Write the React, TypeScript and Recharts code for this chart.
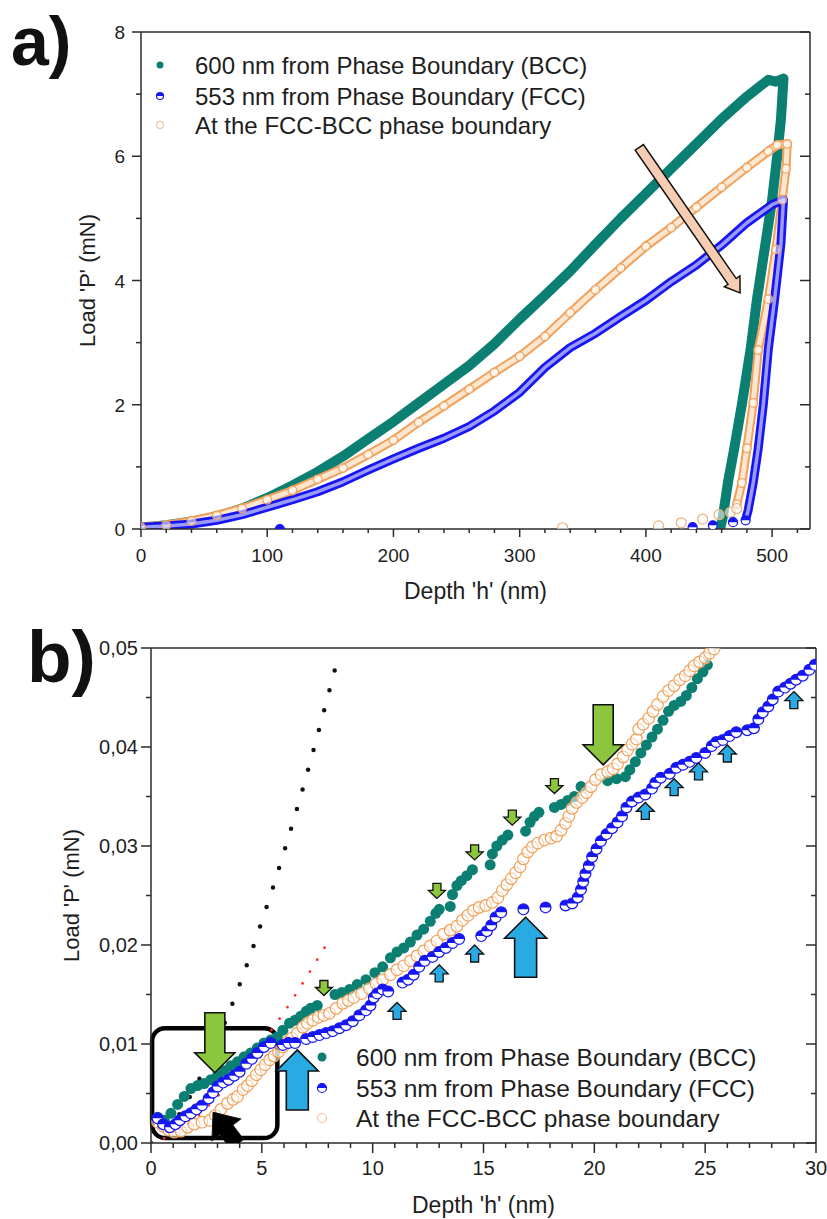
import React from 'react';
import { ComposedChart, XAxis, YAxis, Line, Scatter, ReferenceArea } from 'recharts';

const TEAL = '#0b7f72';
const BLUE = '#1616f2';
const ORANGE = '#f0a05a';
const ORANGE_LIGHT = '#f3c29c';
const GREEN = '#8cc63e';
const SKY = '#2aaae2';
const PEACH = '#f6cdb2';
const AXIS = '#2b2b2b';
const FONT = '"Liberation Sans", Arial, Helvetica, sans-serif';

// ---------- panel a : [depth nm, load mN] ----------
const bccA = [
  [0, 0.03], [10, 0.04], [20, 0.06], [40, 0.12], [60, 0.2], [80, 0.33], [100, 0.5], [120, 0.7],
  [140, 0.92], [160, 1.17], [180, 1.45], [200, 1.73], [220, 2.03], [240, 2.33], [260, 2.63],
  [280, 2.98], [300, 3.38], [320, 3.76], [340, 4.15], [360, 4.58], [380, 5.0], [400, 5.4],
  [420, 5.8], [440, 6.2], [460, 6.6], [480, 6.96], [490, 7.12], [497, 7.23], [503, 7.2], [509, 7.25],
  [507, 6.6], [504, 6.0], [500, 5.3], [494, 4.5], [488, 3.7], [483, 2.9], [476, 2.0], [470, 1.3],
  [465, 0.75], [461, 0.2], [459, 0.02],
];
const fccA = [
  [0, 0.03], [20, 0.05], [40, 0.08], [60, 0.14], [80, 0.23], [100, 0.35], [120, 0.47], [140, 0.6],
  [160, 0.76], [180, 0.95], [200, 1.13], [220, 1.3], [240, 1.46], [260, 1.65], [280, 1.9], [300, 2.2],
  [320, 2.6], [340, 2.92], [360, 3.15], [380, 3.42], [400, 3.68], [420, 3.98], [440, 4.25],
  [460, 4.57], [480, 4.93], [500, 5.22], [509, 5.3], [507, 4.6], [502, 3.7], [497, 2.9], [493, 2.0],
  [489, 1.3], [485, 0.74], [481, 0.3], [479, 0.15],
];
const fccTailA = [[110, 0.0], [437, 0.03], [453, 0.06], [469, 0.11], [479, 0.14]];
const pbA = [
  [0, 0.03], [20, 0.06], [40, 0.13], [60, 0.22], [80, 0.33], [100, 0.47], [120, 0.62], [140, 0.8],
  [160, 0.98], [180, 1.2], [200, 1.43], [220, 1.72], [240, 1.98], [260, 2.25], [280, 2.52],
  [300, 2.78], [320, 3.1], [340, 3.48], [360, 3.85], [380, 4.2], [400, 4.55], [420, 4.85],
  [440, 5.18], [460, 5.5], [480, 5.82], [497, 6.08], [504, 6.18], [512, 6.2], [511, 5.8], [508, 5.3],
  [503, 4.5], [497, 3.7], [489, 2.88], [485, 2.03], [480, 1.3], [476, 0.74], [472, 0.4],
];
const pbTailA = [[334, 0.02], [410, 0.05], [428, 0.1], [445, 0.16], [458, 0.23], [467, 0.27], [472, 0.33]];
const pinkArrowA = [[474.6, 3.8]];

// ---------- panel b ----------
const bccB = [
  [0.3, 0.0026], [0.6, 0.0023], [0.9, 0.003], [1.2, 0.0039], [1.5, 0.0047], [1.8, 0.0055], [2.1, 0.0058],
  [2.4, 0.006], [2.7, 0.0064], [3.0, 0.0068], [3.3, 0.0073], [3.6, 0.0078], [3.9, 0.0082], [4.2, 0.0087],
  [4.5, 0.0091], [4.8, 0.0096], [5.1, 0.0101], [5.4, 0.0104], [5.7, 0.0107], [5.95, 0.0114],
  [6.25, 0.0121], [6.5, 0.0124], [6.75, 0.0128], [7.0, 0.0133], [7.2, 0.0136], [7.5, 0.0139],
  [8.3, 0.015], [8.6, 0.0152], [8.95, 0.0155], [9.3, 0.016], [9.7, 0.0165], [10.1, 0.0172],
  [10.45, 0.0178], [10.8, 0.0187], [11.1, 0.0193], [11.4, 0.0197], [11.7, 0.0203], [12.0, 0.021],
  [12.3, 0.0216], [12.6, 0.0224], [12.85, 0.0232], [13.0, 0.0236], [13.5, 0.0239], [13.6, 0.0251],
  [13.8, 0.026], [14.0, 0.0265], [14.25, 0.027], [14.5, 0.0276], [15.3, 0.0281], [15.4, 0.0292],
  [15.6, 0.03], [15.85, 0.0306], [16.1, 0.0311], [16.9, 0.0315], [17.1, 0.0324], [17.3, 0.033],
  [17.5, 0.0334], [18.2, 0.0339], [18.5, 0.0342], [18.8, 0.0346], [19.1, 0.035], [19.4, 0.036],
  [20.6, 0.0366], [21.0, 0.0368], [21.4, 0.037], [21.6, 0.0377], [21.85, 0.0385], [22.1, 0.0394],
  [22.35, 0.0402], [22.6, 0.041], [22.85, 0.0418], [23.1, 0.0427], [23.35, 0.0436], [23.6, 0.0442],
  [23.9, 0.0446], [24.15, 0.0452], [24.4, 0.046], [24.65, 0.0469], [24.9, 0.0476], [25.1, 0.0483],
];
const fccB = [
  [0.3, 0.0025], [0.55, 0.0019], [0.85, 0.0016], [1.1, 0.0019], [1.3, 0.0023], [1.55, 0.0027],
  [1.8, 0.003], [2.05, 0.0034], [2.3, 0.0038], [2.6, 0.0045], [2.8, 0.0051], [3.0, 0.0057],
  [3.25, 0.0061], [3.5, 0.0064], [3.75, 0.0068], [4.0, 0.0072], [4.3, 0.008], [4.55, 0.0085],
  [4.8, 0.0091], [5.1, 0.0097], [5.4, 0.0101], [5.95, 0.0099], [6.2, 0.0101], [6.5, 0.0101],
  [7.0, 0.0105], [7.3, 0.0107], [7.6, 0.0109], [7.9, 0.0111], [8.2, 0.0113], [8.5, 0.0116],
  [8.8, 0.0119], [9.1, 0.0123], [9.4, 0.0129], [9.7, 0.0134], [9.9, 0.0139], [10.05, 0.0147],
  [10.2, 0.0151], [10.45, 0.0155], [10.7, 0.0153], [11.35, 0.0162], [11.6, 0.0165], [11.85, 0.017],
  [12.1, 0.0178], [12.35, 0.0184], [12.7, 0.0188], [13.0, 0.0193], [13.3, 0.0197], [13.6, 0.0202],
  [13.9, 0.0206], [14.9, 0.0209], [15.15, 0.0214], [15.35, 0.022], [15.55, 0.0228], [15.8, 0.0233],
  [16.8, 0.0236], [17.8, 0.0238], [18.7, 0.024], [19.0, 0.0242], [19.25, 0.0248], [19.4, 0.0256],
  [19.5, 0.0264], [19.6, 0.0272], [19.75, 0.028], [19.9, 0.0289], [20.1, 0.0297], [20.3, 0.0305],
  [20.55, 0.0312], [20.8, 0.0318], [21.05, 0.0324], [21.25, 0.033], [21.45, 0.0339], [21.7, 0.0345],
  [22.0, 0.0349], [22.3, 0.0352], [22.6, 0.0358], [22.75, 0.0364], [23.0, 0.0369], [23.4, 0.0373],
  [23.7, 0.0379], [24.0, 0.0382], [24.3, 0.0385], [24.6, 0.0389], [25.0, 0.0394], [25.3, 0.0401],
  [25.5, 0.0405], [25.8, 0.0407], [26.1, 0.0411], [26.4, 0.0415], [26.9, 0.0417], [27.2, 0.0419],
  [27.4, 0.0428], [27.6, 0.0435], [27.85, 0.0441], [28.05, 0.0448], [28.3, 0.0456], [28.6, 0.046],
  [28.85, 0.0464], [29.1, 0.0468], [29.4, 0.0472], [29.7, 0.0478], [29.95, 0.0483],
];
const pbB = [
  [0.3, 0.0021], [0.55, 0.0017], [0.8, 0.0013], [1.05, 0.0011], [1.35, 0.0012], [1.65, 0.0016],
  [1.95, 0.0019], [2.3, 0.0021], [2.65, 0.0023], [2.9, 0.0028], [3.15, 0.0034], [3.45, 0.004],
  [3.7, 0.0044], [3.9, 0.0047], [4.15, 0.0054], [4.35, 0.0058], [4.55, 0.0063], [4.75, 0.0069],
  [4.95, 0.0074], [5.15, 0.0079], [5.35, 0.0084], [5.55, 0.0088], [5.75, 0.0092], [5.95, 0.0097],
  [6.15, 0.0102], [6.35, 0.0106], [6.6, 0.0111], [6.85, 0.0117], [7.05, 0.0121], [7.3, 0.0124],
  [7.55, 0.0127], [7.8, 0.0129], [8.05, 0.0131], [8.35, 0.0136], [8.65, 0.0141], [8.9, 0.0144],
  [9.15, 0.0147], [9.5, 0.0151], [9.85, 0.0156], [10.15, 0.0161], [10.45, 0.0165], [10.8, 0.017],
  [11.1, 0.0175], [11.4, 0.0179], [11.7, 0.0184], [12.0, 0.0189], [12.3, 0.0194], [12.6, 0.0199],
  [12.9, 0.0204], [13.2, 0.0211], [13.5, 0.0215], [13.8, 0.0219], [14.05, 0.0225], [14.3, 0.023],
  [14.55, 0.0235], [14.8, 0.0238], [15.1, 0.024], [15.4, 0.0243], [15.65, 0.0248], [15.85, 0.0255],
  [16.05, 0.0261], [16.25, 0.0267], [16.45, 0.0273], [16.65, 0.0279], [16.8, 0.0287], [17.0, 0.0294],
  [17.2, 0.0299], [17.45, 0.0303], [17.75, 0.0306], [18.05, 0.0308], [18.3, 0.031], [18.5, 0.0316],
  [18.7, 0.0323], [18.85, 0.033], [19.0, 0.0338], [19.2, 0.0344], [19.45, 0.0349], [19.65, 0.0354],
  [19.85, 0.036], [20.05, 0.0367], [20.3, 0.0372], [20.6, 0.0375], [20.85, 0.0378], [21.05, 0.0383],
  [21.3, 0.039], [21.5, 0.0397], [21.7, 0.0403], [21.9, 0.0408], [22.0, 0.0418], [22.2, 0.0423],
  [22.45, 0.0429], [22.65, 0.0436], [22.85, 0.0443], [23.1, 0.0451], [23.35, 0.0457], [23.6, 0.0462],
  [23.85, 0.0468], [24.1, 0.0472], [24.3, 0.0477], [24.5, 0.0482], [24.75, 0.0486], [25.0, 0.049],
  [25.2, 0.0495], [25.4, 0.0499],
];
// elastic (Hertz-type) guide lines
const fitBlack = [
  [0, 0], [0.5, 0.0007], [1, 0.002], [1.5, 0.0037], [2, 0.0057], [2.5, 0.0079], [3, 0.0104],
  [3.5, 0.0131], [4, 0.016], [4.5, 0.0191], [5, 0.0224], [5.5, 0.0258], [6, 0.0294], [6.5, 0.0331],
  [7, 0.037], [7.5, 0.0411], [8, 0.0453], [8.4, 0.0487],
];
const fitRed = [
  [0, 0], [1, 0.0009], [2, 0.0025], [3, 0.0047], [4, 0.0072], [5, 0.0101], [6, 0.0132], [7, 0.0167], [7.95, 0.0202],
];
// arrow tips
const bigGreenB = [[2.88, 0.0071], [20.4, 0.0382]];
const smallGreenB = [[7.8, 0.0149], [12.9, 0.0247], [14.6, 0.0286], [16.3, 0.0321], [18.2, 0.0353]];
const bigBlueB = [[6.6, 0.0094], [16.9, 0.0228]];
const smallBlueB = [
  [11.1, 0.0142], [13.0, 0.018], [14.6, 0.02], [22.3, 0.0344], [23.6, 0.0368], [24.7, 0.0384], [26.0, 0.0402], [29.0, 0.0456],
];
const blackArrowB = [[2.8, 0.0031]];

// ticks
const xMajorA = [0, 100, 200, 300, 400, 500];
const xMinorA = [20, 40, 60, 80, 120, 140, 160, 180, 220, 240, 260, 280, 320, 340, 360, 380, 420, 440, 460, 480, 520];
const yMajorA = [0, 2, 4, 6, 8];
const yMinorA = [1, 3, 5, 7];
const xMajorB = [0, 5, 10, 15, 20, 25, 30];
const xMinorB = [1, 2, 3, 4, 6, 7, 8, 9, 11, 12, 13, 14, 16, 17, 18, 19, 21, 22, 23, 24, 26, 27, 28, 29];
const yMajorB = [0, 0.01, 0.02, 0.03, 0.04, 0.05];
const yMinorB = [0.005, 0.015, 0.025, 0.035, 0.045];

const legendLabels = ['600 nm from Phase Boundary (BCC)', '553 nm from Phase Boundary (FCC)', 'At the FCC-BCC phase boundary'];

const toPts = (rows: number[][]) => rows.map(([h, p]) => ({ h, p }));
const merge = (a: number[], b: number[]) => [...a, ...b].sort((m, n) => m - n);

type Side = 'bottom' | 'top' | 'left' | 'right';

const makeTick = (side: Side, majors: number[], major: number, minor: number, fmt?: (v: number) => string, gap = 0, fontSize = 20) =>
  (props: any) => {
    const { x, y, payload } = props;
    const v = payload.value;
    const isMajor = majors.includes(v);
    const len = isMajor ? major : minor;
    let line: React.ReactNode = null;
    let label: React.ReactNode = null;
    if (side === 'bottom') {
      line = <line x1={x} y1={y} x2={x} y2={y + len} />;
      if (isMajor && fmt) label = <text x={x} y={y + gap} textAnchor="middle">{fmt(v)}</text>;
    } else if (side === 'top') {
      line = <line x1={x} y1={y} x2={x} y2={y + len} />;
    } else if (side === 'left') {
      line = <line x1={x} y1={y} x2={x - len} y2={y} />;
      if (isMajor && fmt) label = <text x={x - gap} y={y + 7} textAnchor="end">{fmt(v)}</text>;
    } else {
      line = <line x1={x} y1={y} x2={x - len} y2={y} />;
    }
    return (
      <g>
        <g stroke={AXIS} strokeWidth={1.5}>{line}</g>
        {label && <g fill="#1e1e1e" fontSize={fontSize} fontFamily={FONT}>{label}</g>}
      </g>
    );
  };

const xTitle = ({ viewBox }: any) => (
  <text x={viewBox.x + viewBox.width / 2} y={viewBox.y + 70} textAnchor="middle" fontSize={23} fontFamily={FONT} fill="#1e1e1e">
    Depth 'h' (nm)
  </text>
);
const yTitle = (dist: number) => ({ viewBox }: any) => {
  const x = viewBox.x + viewBox.width - dist;
  const y = viewBox.y + viewBox.height / 2;
  return (
    <text x={x} y={y} transform={`rotate(-90, ${x}, ${y})`} textAnchor="middle" fontSize={22} fontFamily={FONT} fill="#1e1e1e">
      Load 'P' (mN)
    </text>
  );
};

const arrowShape = (angle: number, len: number, body: number, head: number, headLen: number, fill: string, sw = 1.6) =>
  (props: any) => {
    const { cx, cy } = props;
    const b = body / 2;
    const hw = head / 2;
    const pts = [[0, 0], [-headLen, hw], [-headLen, b], [-len, b], [-len, -b], [-headLen, -b], [-headLen, -hw]]
      .map((q) => q.join(','))
      .join(' ');
    return (
      <polygon points={pts} transform={`translate(${cx},${cy}) rotate(${angle})`} fill={fill} stroke="#111" strokeWidth={sw} strokeLinejoin="miter" />
    );
  };

const tealDot = (r: number) => (props: any) => <circle cx={props.cx} cy={props.cy} r={r} fill={TEAL} />;
const halfDot = (r: number) => (props: any) => {
  const { cx, cy } = props;
  return (
    <g>
      <circle cx={cx} cy={cy} r={r} fill="#fff" stroke={BLUE} strokeWidth={1.2} />
      <path d={`M${cx - r},${cy}A${r},${r} 0 0 1 ${cx + r},${cy}Z`} fill={BLUE} />
    </g>
  );
};
const ring = (r: number, color = ORANGE) => (props: any) => (
  <circle cx={props.cx} cy={props.cy} r={r} fill="rgba(255,255,255,0.55)" stroke={color} strokeWidth={1.2} />
);

const axisLine = { stroke: AXIS, strokeWidth: 1.5 };
const fmtInt = (v: number) => String(v);
const fmtComma = (v: number) => v.toFixed(2).replace('.', ',');

function PanelA() {
  const xt = merge(xMajorA, xMinorA);
  const yt = merge(yMajorA, yMinorA);
  return (
    <ComposedChart width={827} height={610} margin={{ top: 22, right: 7, bottom: 51, left: 81 }}>
      <XAxis type="number" dataKey="h" domain={[0, 530]} ticks={xt} interval={0} allowDataOverflow tickSize={0} tickMargin={0}
        tickLine={false} tick={makeTick('bottom', xMajorA, 8, 4, fmtInt, 33, 19)} height={30} axisLine={axisLine} label={xTitle} />
      <XAxis xAxisId="top" orientation="top" type="number" domain={[0, 530]} ticks={xt} interval={0} allowDataOverflow tickSize={0}
        tickMargin={0} tickLine={false} tick={makeTick('top', xMajorA, 9, 4)} height={10} axisLine={axisLine} />
      <YAxis type="number" dataKey="p" domain={[0, 8]} ticks={yt} interval={0} allowDataOverflow tickSize={0} tickMargin={0}
        tickLine={false} tick={makeTick('left', yMajorA, 9, 5, fmtInt, 16, 19)} width={60} axisLine={axisLine} label={yTitle(46)} />
      <YAxis yAxisId="right" orientation="right" type="number" domain={[0, 8]} ticks={yt} interval={0} allowDataOverflow tickSize={0}
        tickMargin={0} tickLine={false} tick={makeTick('right', yMajorA, 10, 5)} width={10} axisLine={axisLine} />

      <Line data={toPts(bccA)} dataKey="p" type="linear" stroke={TEAL} strokeWidth={10} strokeLinecap="round" strokeLinejoin="round" dot={false} isAnimationActive={false} />

      <Line data={toPts(pbA)} dataKey="p" type="linear" stroke={ORANGE} strokeWidth={9} strokeLinecap="round" strokeLinejoin="round" dot={false} isAnimationActive={false} />
      <Line data={toPts(pbA)} dataKey="p" type="linear" stroke="#fde6cf" strokeWidth={5} strokeLinecap="round" strokeLinejoin="round" dot={false} isAnimationActive={false} />
      <Scatter data={toPts(pbA)} dataKey="p" shape={ring(4.3)} isAnimationActive={false} />
      <Scatter data={toPts(pbTailA)} dataKey="p" shape={ring(5, '#e9b27c')} isAnimationActive={false} />

      <Line data={toPts(fccA)} dataKey="p" type="linear" stroke={BLUE} strokeWidth={9} strokeLinecap="round" strokeLinejoin="round" dot={false} isAnimationActive={false} />
      <Line data={toPts(fccA)} dataKey="p" type="linear" stroke="#9a9aff" strokeWidth={3.5} strokeLinecap="round" strokeLinejoin="round" dot={false} isAnimationActive={false} />
      <Scatter data={toPts(fccTailA)} dataKey="p" shape={halfDot(4.5)} isAnimationActive={false} />

      <Scatter data={toPts(pinkArrowA)} dataKey="p" shape={arrowShape(55.3, 177, 10, 19, 14, PEACH, 1.5)} isAnimationActive={false} />
    </ComposedChart>
  );
}

function PanelB() {
  const xt = merge(xMajorB, xMinorB);
  const yt = merge(yMajorB, yMinorB);
  return (
    <ComposedChart width={827} height={609} margin={{ top: 28, right: 1, bottom: 46, left: 91 }}>
      <XAxis type="number" dataKey="h" domain={[0, 30]} ticks={xt} interval={0} allowDataOverflow tickSize={0} tickMargin={0}
        tickLine={false} tick={makeTick('bottom', xMajorB, 10, 5, fmtInt, 32, 20)} height={30} axisLine={axisLine} label={xTitle} />
      <XAxis xAxisId="top" orientation="top" type="number" domain={[0, 30]} ticks={xt} interval={0} allowDataOverflow tickSize={0}
        tickMargin={0} tickLine={false} tick={makeTick('top', xMajorB, 10, 5)} height={10} axisLine={axisLine} />
      <YAxis type="number" dataKey="p" domain={[0, 0.05]} ticks={yt} interval={0} allowDataOverflow tickSize={0} tickMargin={0}
        tickLine={false} tick={makeTick('left', yMajorB, 10, 5, fmtComma, 13, 20)} width={60} axisLine={axisLine} label={yTitle(72)} />
      <YAxis yAxisId="right" orientation="right" type="number" domain={[0, 0.05]} ticks={yt} interval={0} allowDataOverflow tickSize={0}
        tickMargin={0} tickLine={false} tick={makeTick('right', yMajorB, 10, 5)} width={10} axisLine={axisLine} />

      <Scatter data={toPts(bccB)} dataKey="p" shape={tealDot(5.5)} isAnimationActive={false} />
      <Scatter data={toPts(pbB)} dataKey="p" shape={ring(5.8)} isAnimationActive={false} />
      <Scatter data={toPts(fccB)} dataKey="p" shape={halfDot(5.4)} isAnimationActive={false} />

      <Line data={toPts(fitBlack)} dataKey="p" type="monotone" stroke="#111" strokeWidth={4.5} strokeDasharray="0 20.5" strokeLinecap="round" dot={false} isAnimationActive={false} />
      <Line data={toPts(fitRed)} dataKey="p" type="monotone" stroke="#ff2a2a" strokeWidth={2.8} strokeDasharray="0 14" strokeLinecap="round" dot={false} isAnimationActive={false} />

      <ReferenceArea x1={0.05} x2={5.7} y1={0.0005} y2={0.0116} ifOverflow="visible"
        shape={(p: any) => <rect x={p.x} y={p.y} width={p.width} height={p.height} rx={13} ry={13} fill="none" stroke="#000" strokeWidth={4.5} />} />

      <Scatter data={toPts(blackArrowB)} dataKey="p" shape={arrowShape(-127, 40, 16, 36, 22, '#000', 1)} isAnimationActive={false} />
      <Scatter data={toPts(bigGreenB)} dataKey="p" shape={arrowShape(90, 60, 20, 40, 20, GREEN)} isAnimationActive={false} />
      <Scatter data={toPts(smallGreenB)} dataKey="p" shape={arrowShape(90, 15, 8, 17, 8, GREEN, 1.3)} isAnimationActive={false} />
      <Scatter data={toPts(bigBlueB)} dataKey="p" shape={arrowShape(-90, 60, 22, 42, 21, SKY)} isAnimationActive={false} />
      <Scatter data={toPts(smallBlueB)} dataKey="p" shape={arrowShape(-90, 17, 8, 18, 9, SKY, 1.3)} isAnimationActive={false} />
    </ComposedChart>
  );
}

function LegendBlock({ x, tx, rows, r, fontSize }: { x: number; tx: number; rows: number[]; r: number; fontSize: number }) {
  const marks = [tealDot(r), halfDot(r), ring(r, ORANGE_LIGHT)];
  return (
    <g>
      {legendLabels.map((t, i) => (
        <g key={t}>
          {marks[i]({ cx: x, cy: rows[i] })}
          <text x={tx} y={rows[i] + 9} fontSize={fontSize} fontFamily={FONT} fill="#1e1e1e">{t}</text>
        </g>
      ))}
    </g>
  );
}

export default function App() {
  return (
    <div style={{ position: 'absolute', left: 0, top: 0, width: 827, height: 1219, background: '#fff' }}>
      <div style={{ position: 'absolute', left: 0, top: 0 }}>
        <PanelA />
      </div>
      <div style={{ position: 'absolute', left: 0, top: 610 }}>
        <PanelB />
      </div>
      <svg width={827} height={1219} style={{ position: 'absolute', left: 0, top: 0, pointerEvents: 'none' }}>
        <text x={11} y={65} fontSize={68} fontWeight={700} fontFamily={FONT} fill="#111">a)</text>
        <text x={27} y={682} fontSize={73} fontWeight={700} fontFamily={FONT} fill="#111">b)</text>
        <LegendBlock x={160} tx={195} rows={[65, 96, 125]} r={3.5} fontSize={24} />
        <LegendBlock x={322} tx={356} rows={[1057, 1088, 1118]} r={4.5} fontSize={24.5} />
      </svg>
    </div>
  );
}
